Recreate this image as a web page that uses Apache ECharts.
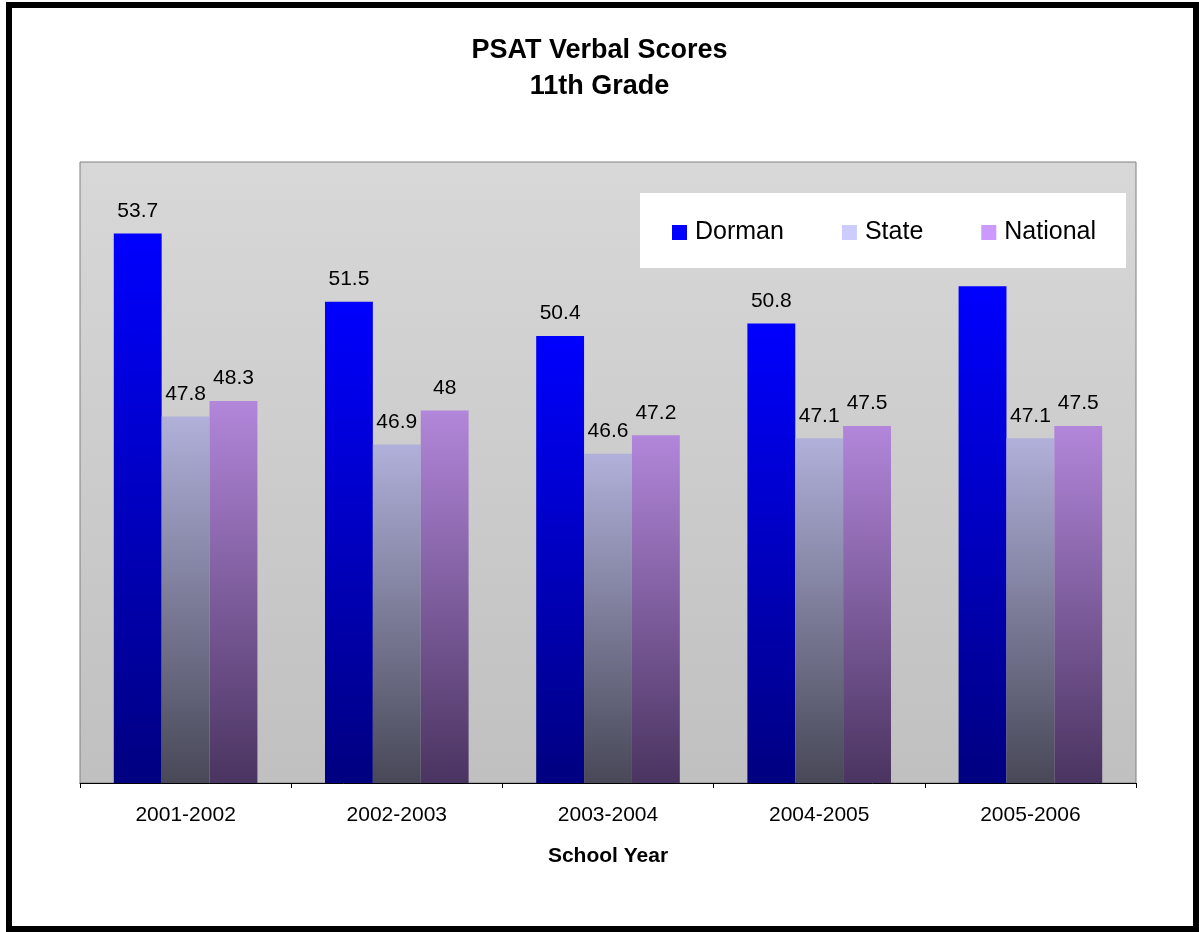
<!DOCTYPE html>
<html>
<head>
<meta charset="utf-8">
<script src="https://cdn.jsdelivr.net/npm/echarts@6/dist/echarts.min.js"></script>
<style>
  html, body { margin: 0; padding: 0; background: #fff; }
  #chart { width: 1199px; height: 932px; }
</style>
</head>
<body>
<div id="chart"></div>
<script>
// school years on the x axis
const years = ['2001-2002', '2002-2003', '2003-2004', '2004-2005', '2005-2006']
const dorman = [53.7, 51.5, 50.4, 50.8, 52.0]
const state = [47.8, 46.9, 46.6, 47.1, 47.1]
const national = [48.3, 48, 47.2, 47.5, 47.5]
// the last Dorman bar has no label in the original
const dormanHideLabel = [false, false, false, false, true]

const font = 'Arial, "Liberation Sans", sans-serif'

function grad (top, bottom) {
  return new echarts.graphic.LinearGradient(0, 0, 0, 1, [
    { offset: 0, color: top },
    { offset: 1, color: bottom }
  ])
}

const labelStyle = {
  show: true,
  position: 'top',
  distance: 12,
  color: '#000',
  fontFamily: font,
  fontSize: 21
}

const chart = echarts.init(document.getElementById('chart'))
chart.setOption({
  animation: false,
  backgroundColor: '#fff',
  textStyle: { fontFamily: font },
  title: {
    text: 'PSAT Verbal Scores\n11th Grade',
    left: 'center',
    top: 28,
    textStyle: { fontFamily: font, fontSize: 27, fontWeight: 'bold', color: '#000', lineHeight: 36 }
  },
  graphic: [{
    type: 'rect',
    shape: { x: 9, y: 5, width: 1187, height: 924 },
    style: { fill: 'none', stroke: '#000', lineWidth: 6 },
    silent: true
  }],
  legend: {
    left: 640,
    top: 193,
    padding: [27, 30, 23, 32],
    itemGap: 58,
    backgroundColor: '#fff',
    icon: 'rect',
    itemWidth: 15,
    itemHeight: 15,
    textStyle: { fontFamily: font, fontSize: 25, color: '#000', padding: [0, 0, 0, 3] },
    data: [
      { name: 'Dorman', itemStyle: { color: '#0000ff' } },
      { name: 'State', itemStyle: { color: '#ccccff' } },
      { name: 'National', itemStyle: { color: '#cc99ff' } }
    ]
  },
  grid: {
    left: 80,
    top: 162,
    right: 63,
    bottom: 149,
    show: true,
    borderColor: '#808080',
    borderWidth: 1,
    backgroundColor: grad('#d8d8d8', '#c0c0c0')
  },
  xAxis: {
    type: 'category',
    data: years,
    name: 'School Year',
    nameLocation: 'middle',
    nameGap: 63,
    nameTextStyle: { fontFamily: font, fontSize: 21, fontWeight: 'bold', color: '#000' },
    axisLine: { lineStyle: { color: '#000', width: 1 } },
    axisTick: { show: true, length: 5, lineStyle: { color: '#000' } },
    axisLabel: { margin: 22, fontFamily: font, fontSize: 21, color: '#000' }
  },
  yAxis: {
    type: 'value',
    min: 36,
    max: 56,
    interval: 4,
    axisLine: { show: false },
    axisTick: { show: false },
    axisLabel: { show: false },
    splitLine: { show: false }
  },
  series: [
    {
      name: 'Dorman',
      type: 'bar',
      barGap: '0%',
      barCategoryGap: '32%',
      itemStyle: { color: grad('#0000ff', '#000080') },
      label: labelStyle,
      data: dorman.map((v, i) => dormanHideLabel[i] ? { value: v, label: { show: false } } : v)
    },
    {
      name: 'State',
      type: 'bar',
      itemStyle: { color: grad('#b0b0da', '#484858') },
      label: labelStyle,
      data: state
    },
    {
      name: 'National',
      type: 'bar',
      itemStyle: { color: grad('#b286da', '#4a3460') },
      label: labelStyle,
      data: national
    }
  ]
})
</script>
</body>
</html>
